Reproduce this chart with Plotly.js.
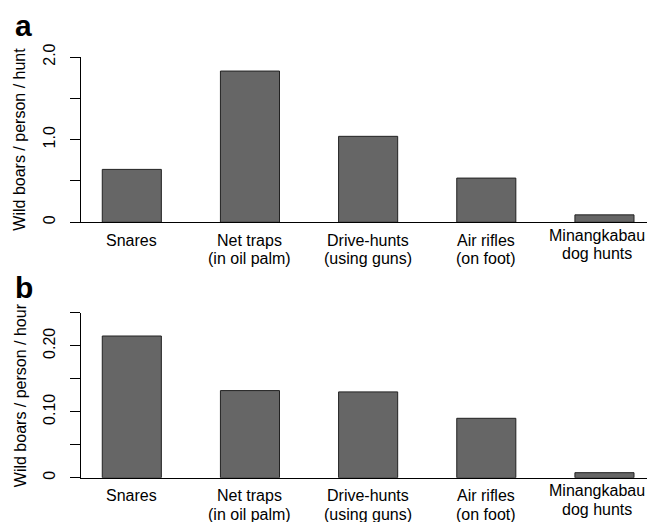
<!DOCTYPE html>
<html>
<head>
<meta charset="utf-8">
<script src="https://cdn.plot.ly/plotly-3.0.1.min.js"></script>
<style>html,body{margin:0;padding:0;background:#fff;}#chart{width:647px;height:522px;}</style>
</head>
<body>
<div id="chart"></div>
<script>
// ---- data ----
const categories = ["Snares", "Net traps", "Drive-hunts", "Air rifles", "Minangkabau"];
const subLabels = ["", "(in oil palm)", "(using guns)", "(on foot)", "dog hunts"];
const perHunt = [0.64, 1.83, 1.04, 0.535, 0.09];
const perHour = [0.2147, 0.132, 0.130, 0.090, 0.0076];
const yTicksA = [0, 0.5, 1.0, 1.5, 2.0];
const yTickTextA = ["0", "", "1.0", "", "2.0"];
const yTicksB = [0, 0.05, 0.10, 0.15, 0.20, 0.25];
const yTickTextB = ["0", "", "0.10", "", "0.20", ""];
const panelLetters = ["a", "b"];
const yTitles = ["Wild boars / person / hunt", "Wild boars / person / hour"];

// ---- layout helpers ----
const H = 522, PW = 566, ML = 81;
const FONT = "Liberation Sans, Arial, Helvetica, sans-serif";
const domA = [1 - 222.3 / H, 1 - 57 / H];
const domB = [1 - 477.7 / H, 1 - 312.7 / H];

const barStyle = {color: "#666666", line: {color: "#222222", width: 1}};

const traces = [
  {type: "bar", x: categories, y: perHunt, xaxis: "x", yaxis: "y", marker: barStyle, hoverinfo: "x+y"},
  {type: "bar", x: categories, y: perHour, xaxis: "x2", yaxis: "y2", marker: barStyle, hoverinfo: "x+y"}
];

function xAx(anchor) {
  return {
    type: "category", anchor: anchor, range: [-0.43, 4.36],
    showline: true, linecolor: "#000", linewidth: 1,
    ticks: "", showticklabels: false, showgrid: false, zeroline: false, fixedrange: true
  };
}
function yAx(anchor, dom, range, vals, text) {
  return {
    anchor: anchor, domain: dom, range: range,
    tickmode: "array", tickvals: vals, ticktext: text, tickangle: -90,
    ticks: "outside", ticklen: 10, tickcolor: "#000", tickwidth: 1,
    showline: true, linecolor: "#000", linewidth: 1,
    showgrid: false, zeroline: false, fixedrange: true,
    tickfont: {family: FONT, size: 16, color: "#000"},
    ticklabelstandoff: 9
  };
}

const annotations = [];
const axes = [{xref: "x", dom: domA, title: yTitles[0]}, {xref: "x2", dom: domB, title: yTitles[1]}];
axes.forEach(function (ax) {
  categories.forEach(function (c, i) {
    const up = (i === categories.length - 1) ? 5 : 0;
    const dx = (i === categories.length - 1) ? -7 : 0;
    annotations.push({
      xref: ax.xref, yref: "paper", x: c, y: ax.dom[0], yanchor: "middle", xanchor: "center",
      yshift: -18 + up, xshift: dx, showarrow: false, text: c, borderpad: 0,
      font: {family: FONT, size: 16, color: "#000"}
    });
    if (subLabels[i]) {
      annotations.push({
        xref: ax.xref, yref: "paper", x: c, y: ax.dom[0], yanchor: "middle", xanchor: "center",
        yshift: -36.5 + up, xshift: dx, showarrow: false, text: subLabels[i], borderpad: 0,
        font: {family: FONT, size: 16, color: "#000"}
      });
    }
  });
  // y-axis title
  annotations.push({
    xref: "paper", yref: "paper", x: (20 - ML) / PW, y: (ax.dom[0] + ax.dom[1]) / 2,
    xanchor: "center", yanchor: "middle", textangle: -90, showarrow: false,
    text: ax.title, font: {family: FONT, size: 16, color: "#000"}
  });
});
// panel letters
[[panelLetters[0], 1 - 26 / H], [panelLetters[1], 1 - 287 / H]].forEach(function (p) {
  annotations.push({
    xref: "paper", yref: "paper", x: (13 - ML) / PW, y: p[1], xanchor: "left", yanchor: "middle",
    showarrow: false, text: "<b>" + p[0] + "</b>",
    font: {family: FONT, size: 30, color: "#000"}
  });
});

const layout = {
  width: 647, height: 522,
  margin: {l: ML, r: 0, t: 0, b: 0, pad: 0},
  paper_bgcolor: "#fff", plot_bgcolor: "#fff",
  showlegend: false, bargap: 0.5,
  font: {family: FONT, size: 16, color: "#000"},
  xaxis: xAx("y"),
  yaxis: yAx("x", domA, [0, 2.0], yTicksA, yTickTextA),
  xaxis2: xAx("y2"),
  yaxis2: yAx("x2", domB, [0, 0.25], yTicksB, yTickTextB),
  annotations: annotations
};

Plotly.newPlot("chart", traces, layout, {displayModeBar: false, staticPlot: true});
</script>
</body>
</html>
